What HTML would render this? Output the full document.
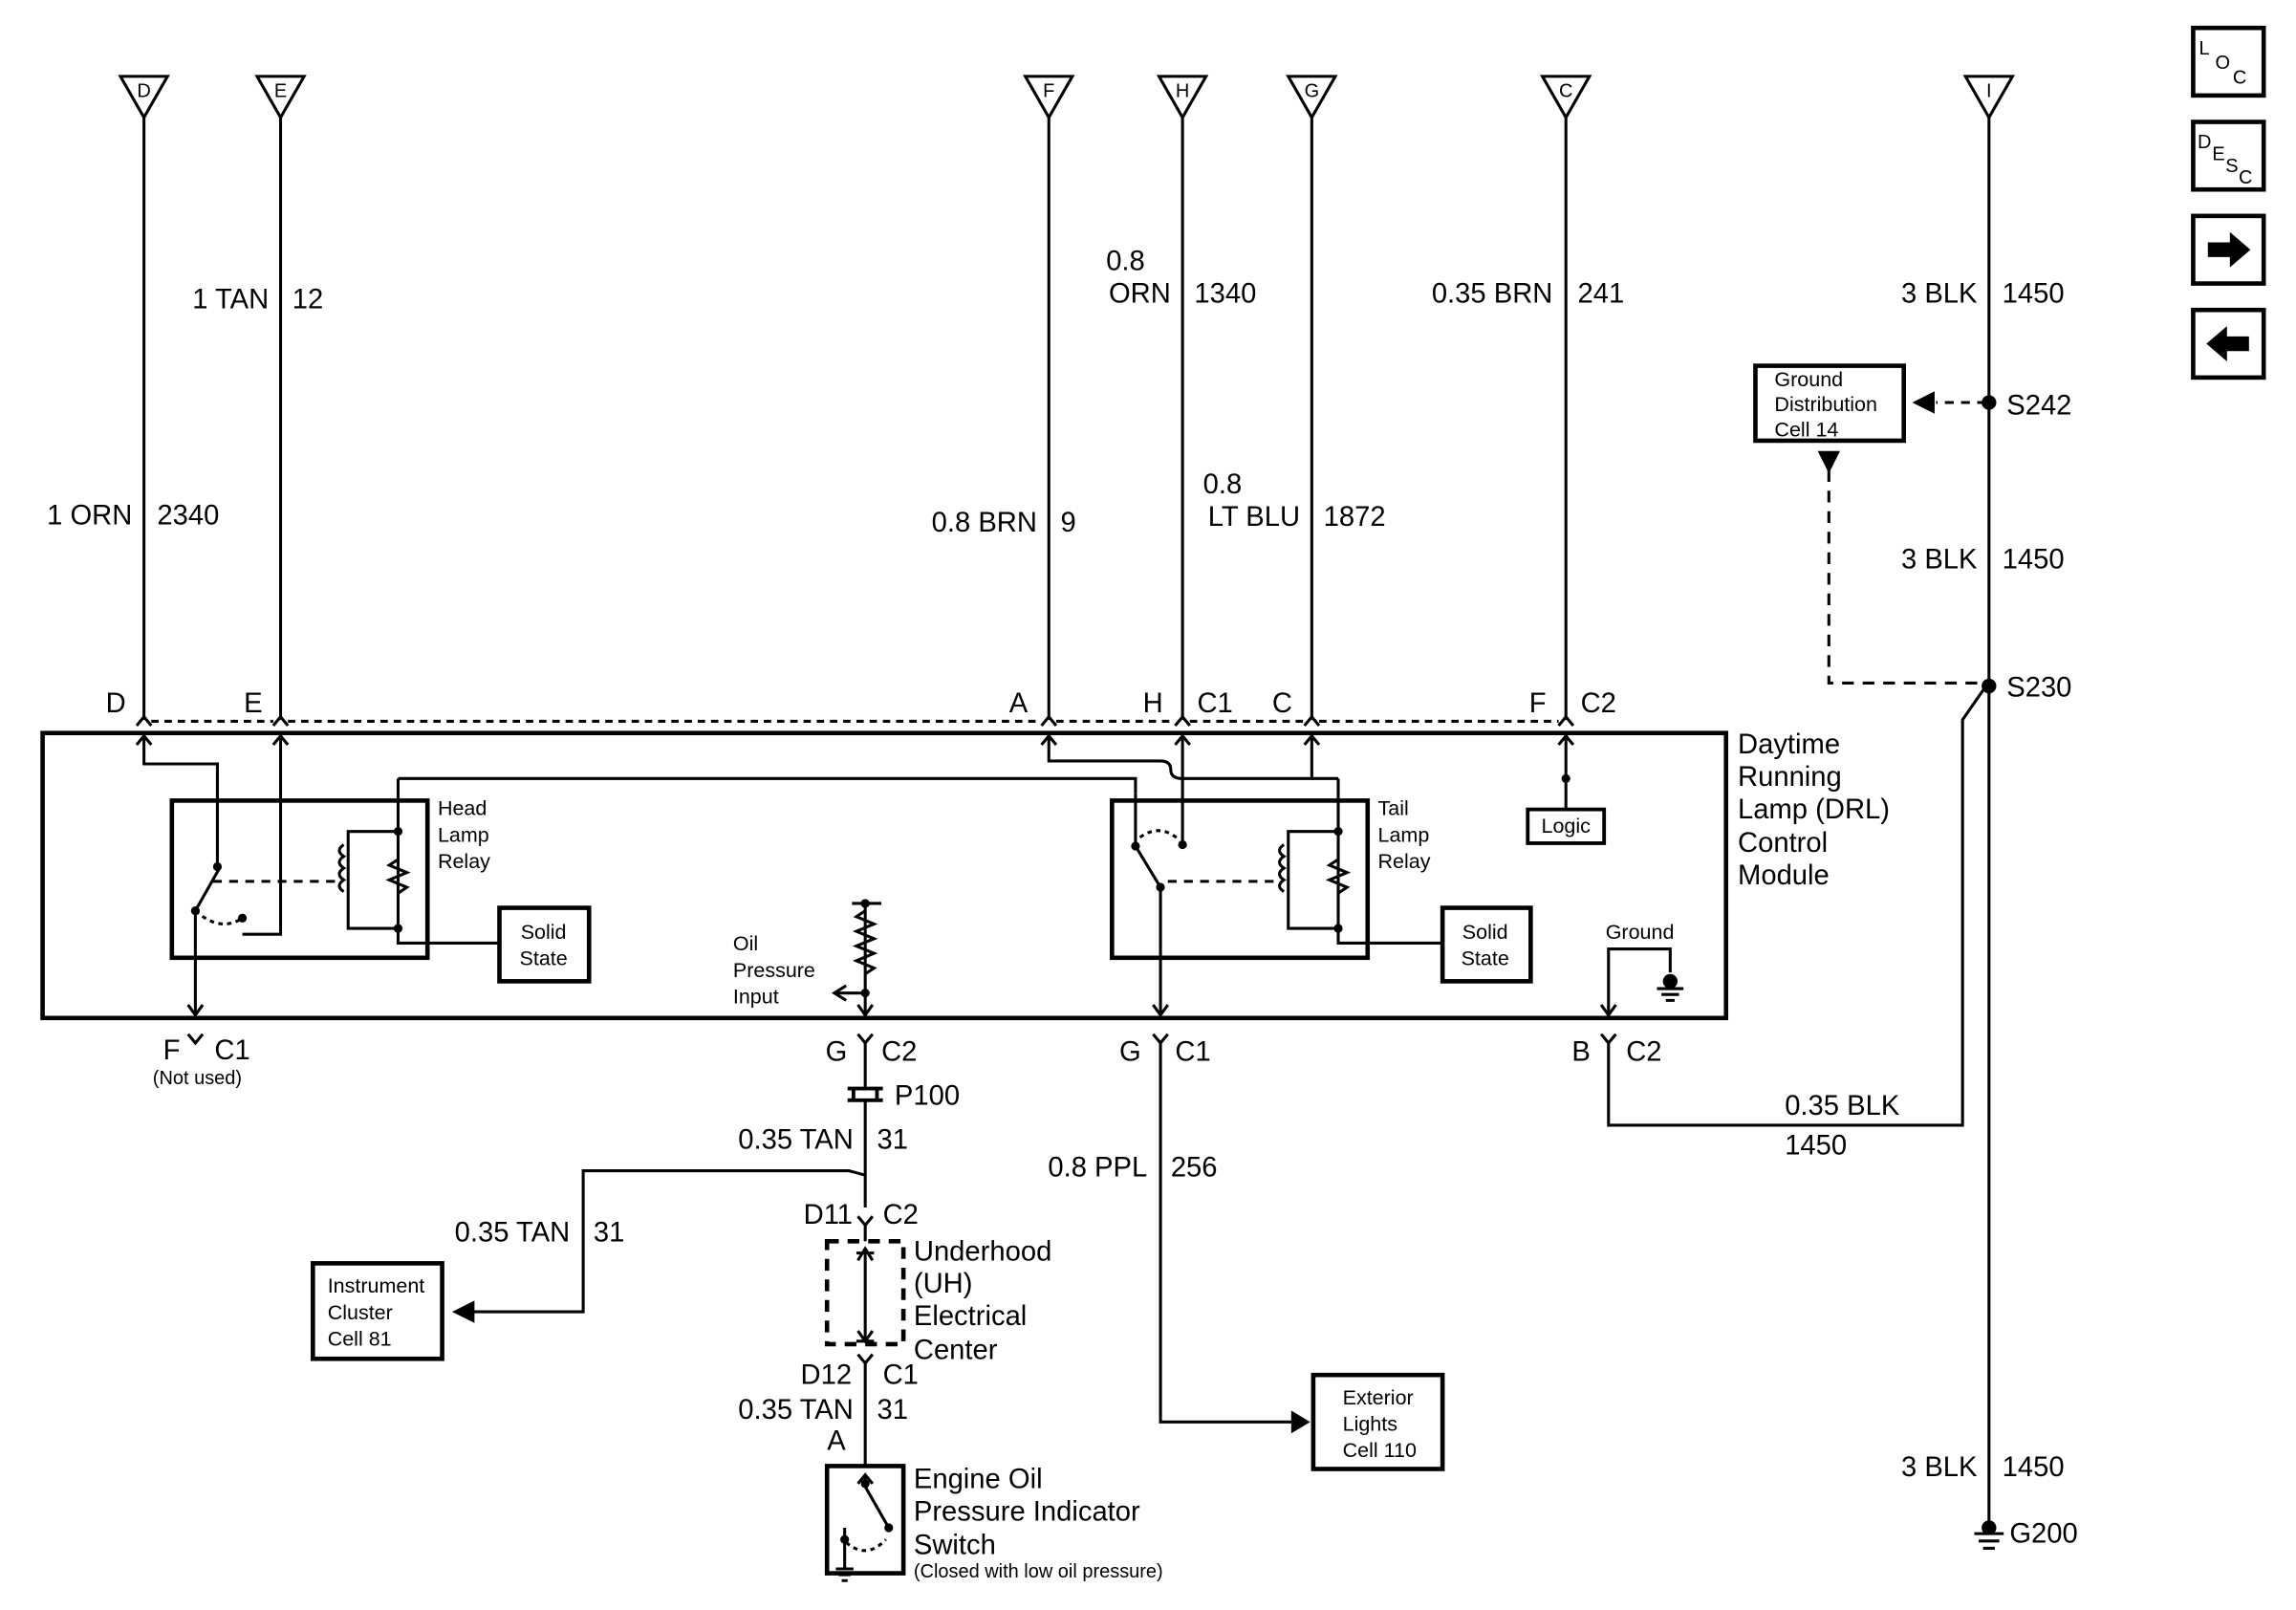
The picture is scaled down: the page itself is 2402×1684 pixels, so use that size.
<!DOCTYPE html>
<html><head><meta charset="utf-8"><style>
html,body{margin:0;padding:0;background:#fff;}
svg{display:block;}
text{font-family:"Liberation Sans",sans-serif;fill:#000;}
.l{font-size:19px;}
.s{font-size:14px;}
.xs{font-size:13px;}
</style></head><body>
<svg width="2402" height="1684" viewBox="0 0 1563 1096" preserveAspectRatio="none" xmlns="http://www.w3.org/2000/svg">
<g stroke="#000" stroke-width="2" fill="none">
<!-- top triangles -->
<g id="tri">
<path d="M82,52 L114,52 L98,80 Z"/>
</g>
<path d="M175,52 L207,52 L191,80 Z"/>
<path d="M698,52 L730,52 L714,80 Z"/>
<path d="M789,52 L821,52 L805,80 Z"/>
<path d="M877,52 L909,52 L893,80 Z"/>
<path d="M1050,52 L1082,52 L1066,80 Z"/>
<path d="M1338,52 L1370,52 L1354,80 Z"/>
<!-- vertical wires -->
<path d="M98,80 V490 M191,80 V490 M714,80 V490 M805,80 V490 M893,80 V490 M1066,80 V490"/>
<path d="M1354,80 V1040"/>
<!-- connector carets -->
<path d="M93,494 L98,488 L103,494 M186,494 L191,488 L196,494 M709,494 L714,488 L719,494 M800,494 L805,488 L810,494 M888,494 L893,488 L898,494 M1061,494 L1066,488 L1071,494"/>
<path d="M103,491 H186 M196,491 H709 M719,491 H800 M810,491 H888 M898,491 H1061" stroke-dasharray="5,4"/>
<!-- module -->
<rect x="29" y="499" width="1146" height="194" stroke-width="3"/>
<!-- head lamp relay -->
<rect x="117" y="545" width="174" height="107" stroke-width="3"/>
<path d="M98,500 V520 H148 V590"/>
<path d="M191,500 V636 H165"/>
<path d="M93,507 L98,501 L103,507 M186,507 L191,501 L196,507"/>
<path d="M133,620 V690 M128,684 L133,691 L138,684"/>
<path d="M133,620 L150,590" />
<path d="M133,620 Q150,635 165,625" stroke-dasharray="3,3"/>
<path d="M145,600 H230" stroke-dasharray="6,5"/>
<path d="M271,530 V632 H237 V566 H271"/>
<path d="M234,575 q-6,4 0,8 q-6,4 0,8 q-6,4 0,8 q-6,4 0,8"/>
<path d="M271,585 l-6,4 l12,5 l-12,5 l12,5 l-6,4"/>
<path d="M271,530 H773 V540"/>
<path d="M271,632 V642 H340"/>
<rect x="340" y="618" width="61" height="50" stroke-width="3"/>
<!-- tail lamp relay -->
<rect x="757" y="545" width="174" height="107" stroke-width="3"/>
<path d="M714,500 V518 H790 Q797,518 797,524 Q797,530 805,530 H893 V500"/>
<path d="M709,507 L714,501 L719,507 M800,507 L805,501 L810,507 M888,507 L893,501 L898,507 M1061,507 L1066,501 L1071,507"/>
<path d="M805,500 V575 M773,540 V576"/>
<path d="M773,576 L790,604 V690 M785,684 L790,691 L795,684"/>
<path d="M776,570 Q790,560 803,572" stroke-dasharray="3,3"/>
<path d="M795,600 H870" stroke-dasharray="6,5"/>
<path d="M911,530 V632 H877 V566 H911 M911,530 H893"/>
<path d="M874,575 q-6,4 0,8 q-6,4 0,8 q-6,4 0,8 q-6,4 0,8"/>
<path d="M911,585 l-6,4 l12,5 l-12,5 l12,5 l-6,4"/>
<path d="M911,632 V642 H982"/>
<rect x="982" y="618" width="60" height="50" stroke-width="3"/>
<path d="M1066,500 V551"/>
<rect x="1040" y="551" width="52" height="23" stroke-width="2.5"/>
<!-- ground inside -->
<path d="M1095,690 V646 H1137 V662"/>
<path d="M1090,684 L1095,691 L1100,684"/>
<path d="M1128,673 H1146 M1131,677 H1143 M1134,681 H1140"/>
<!-- oil pressure input -->
<path d="M589,615 V690 M580,615 H600"/>
<path d="M589,620 l-6,4 l12,5 l-12,5 l12,5 l-12,5 l12,5 l-12,5 l12,5 l-6,4"/>
<path d="M589,676 H570 M576,671 L568,676 L576,681"/>
<path d="M584,684 L589,691 L594,684"/>
<!-- bottom connectors -->
<path d="M128,704 L133,710 L138,704"/>
<path d="M584,704 L589,710 L594,704 M589,710 V740"/>
<path d="M785,704 L790,710 L795,704 M790,710 V968 H880"/>
<path d="M880,962 L890,968 L880,974 Z" fill="#000"/>
<rect x="894" y="936" width="88" height="64" stroke-width="3"/>
<path d="M1090,704 L1095,710 L1100,704 M1095,710 V766 H1336 V490 L1352,467"/>
<!-- P100 -->
<path d="M577,741 H601 M577,749 H601 M581,741 V749 M597,741 V749" stroke-width="2.5"/>
<path d="M589,750 V822 M589,800 L578,797 H397 V893 H320"/>
<path d="M322,887 L310,893 L322,899 Z" fill="#000"/>
<rect x="213" y="860" width="88" height="65" stroke-width="3"/>
<path d="M584,828 L589,834 L594,828 M589,834 V845"/>
<rect x="563" y="845" width="52" height="70" stroke-width="3" stroke-dasharray="8,6"/>
<path d="M583,853 H595 M584,858 L589,850 L594,858 M589,850 V912 M584,906 L589,913 L594,906 M583,913 H595"/>
<path d="M584,922 L589,928 L594,922 M589,928 V998"/>
<rect x="563" y="998" width="52" height="73" stroke-width="3"/>
<path d="M589,1004 V1010 M584,1010 L589,1004 L594,1010 M589,1012 L605,1040 M575,1040 V1068 M569,1068 H581 M571,1072 H579 M573,1076 H577"/>
<path d="M576,1050 Q590,1062 603,1048" stroke-dasharray="3,3"/>
<!-- right side -->
<rect x="1195" y="249" width="101" height="51" stroke-width="3"/>
<path d="M1352,274 H1318" stroke-dasharray="6,5"/>
<path d="M1316,268 L1304,274 L1316,280 Z" fill="#000"/>
<path d="M1245,320 V465 H1352" stroke-dasharray="8,6"/>
<path d="M1239,308 L1245,320 L1251,308 Z" fill="#000"/>
<path d="M1344,1044 H1364 M1347,1049 H1361 M1350,1054 H1358"/>
<!-- icons -->
<rect x="1493" y="19" width="48" height="46" stroke-width="3"/>
<rect x="1493" y="83" width="48" height="46" stroke-width="3"/>
<rect x="1493" y="147" width="48" height="46" stroke-width="3"/>
<rect x="1493" y="211" width="48" height="46" stroke-width="3"/>
</g>
<g fill="#000">
<circle cx="1354" cy="274" r="5"/><circle cx="1354" cy="467" r="5"/><circle cx="1354" cy="1040" r="5"/>
<circle cx="148" cy="590" r="3"/><circle cx="133" cy="620" r="3"/><circle cx="165" cy="625" r="3"/>
<circle cx="271" cy="566" r="3"/><circle cx="271" cy="632" r="3"/>
<circle cx="773" cy="576" r="3"/><circle cx="805" cy="575" r="3"/><circle cx="790" cy="604" r="3"/>
<circle cx="911" cy="566" r="3"/><circle cx="911" cy="632" r="3"/><circle cx="1066" cy="530" r="3"/>
<circle cx="589" cy="615" r="3"/><circle cx="589" cy="676" r="3"/><circle cx="1137" cy="668" r="5"/>
<circle cx="589" cy="1010" r="3"/><circle cx="575" cy="1048" r="3"/><circle cx="605" cy="1040" r="3"/>
<path d="M1503,165 H1518 V158 L1532,170 L1518,182 V175 H1503 Z"/>
<path d="M1531,229 H1516 V222 L1502,234 L1516,246 V239 H1531 Z"/>
<rect x="575" y="1066" width="1" height="1"/>
</g>
<!-- triangle letters -->
<g class="xs" text-anchor="middle">
<text x="98" y="66">D</text><text x="191" y="66">E</text><text x="714" y="66">F</text><text x="805" y="66">H</text><text x="893" y="66">G</text><text x="1066" y="66">C</text><text x="1354" y="66">I</text>
</g>
<g class="l">
<text x="90" y="357" text-anchor="end">1 ORN</text><text x="107" y="357">2340</text>
<text x="183" y="210" text-anchor="end">1 TAN</text><text x="199" y="210">12</text>
<text x="706" y="362" text-anchor="end">0.8 BRN</text><text x="722" y="362">9</text>
<text x="753" y="184">0.8</text><text x="797" y="206" text-anchor="end">ORN</text><text x="813" y="206">1340</text>
<text x="819" y="336">0.8</text><text x="885" y="358" text-anchor="end">LT BLU</text><text x="901" y="358">1872</text>
<text x="1057" y="206" text-anchor="end">0.35 BRN</text><text x="1074" y="206">241</text>
<text x="1346" y="206" text-anchor="end">3 BLK</text><text x="1363" y="206">1450</text>
<text x="1346" y="387" text-anchor="end">3 BLK</text><text x="1363" y="387">1450</text>
<text x="1346" y="1005" text-anchor="end">3 BLK</text><text x="1363" y="1005">1450</text>
<text x="1366" y="282">S242</text><text x="1366" y="474">S230</text><text x="1368" y="1050">G200</text>
<text x="72" y="485">D</text><text x="166" y="485">E</text><text x="687" y="485">A</text><text x="778" y="485">H</text><text x="815" y="485">C1</text><text x="866" y="485">C</text><text x="1041" y="485">F</text><text x="1076" y="485">C2</text>
<text x="1183" y="513">Daytime</text><text x="1183" y="535">Running</text><text x="1183" y="557">Lamp (DRL)</text><text x="1183" y="580">Control</text><text x="1183" y="602">Module</text>
<text x="111" y="721">F</text><text x="146" y="721">C1</text>
<text x="562" y="722">G</text><text x="600" y="722">C2</text>
<text x="762" y="722">G</text><text x="800" y="722">C1</text>
<text x="1070" y="722">B</text><text x="1107" y="722">C2</text>
<text x="609" y="752">P100</text>
<text x="581" y="782" text-anchor="end">0.35 TAN</text><text x="597" y="782">31</text>
<text x="388" y="845" text-anchor="end">0.35 TAN</text><text x="404" y="845">31</text>
<text x="547" y="833">D11</text><text x="601" y="833">C2</text>
<text x="622" y="858">Underhood</text><text x="622" y="880">(UH)</text><text x="622" y="902">Electrical</text><text x="622" y="925">Center</text>
<text x="545" y="942">D12</text><text x="601" y="942">C1</text>
<text x="581" y="966" text-anchor="end">0.35 TAN</text><text x="597" y="966">31</text>
<text x="563" y="987">A</text>
<text x="622" y="1013">Engine Oil</text><text x="622" y="1035">Pressure Indicator</text><text x="622" y="1058">Switch</text>
<text x="781" y="801" text-anchor="end">0.8 PPL</text><text x="797" y="801">256</text>
<text x="1215" y="759">0.35 BLK</text><text x="1215" y="786">1450</text>
</g>
<g class="s">
<text x="298" y="555">Head</text><text x="298" y="573">Lamp</text><text x="298" y="591">Relay</text>
<text x="938" y="555">Tail</text><text x="938" y="573">Lamp</text><text x="938" y="591">Relay</text>
<text x="370" y="639" text-anchor="middle">Solid</text><text x="370" y="657" text-anchor="middle">State</text>
<text x="1011" y="639" text-anchor="middle">Solid</text><text x="1011" y="657" text-anchor="middle">State</text>
<text x="1066" y="567" text-anchor="middle">Logic</text>
<text x="1093" y="639">Ground</text>
<text x="499" y="647">Oil</text><text x="499" y="665">Pressure</text><text x="499" y="683">Input</text>
<text x="223" y="880">Instrument</text><text x="223" y="898">Cluster</text><text x="223" y="916">Cell 81</text>
<text x="914" y="956">Exterior</text><text x="914" y="974">Lights</text><text x="914" y="992">Cell 110</text>
<text x="1208" y="263">Ground</text><text x="1208" y="280">Distribution</text><text x="1208" y="297">Cell 14</text>
</g>
<g class="xs">
<text x="104" y="738">(Not used)</text>
<text x="622" y="1074">(Closed with low oil pressure)</text>
<text x="1497" y="37">L</text><text x="1508" y="47">O</text><text x="1520" y="57">C</text>
<text x="1496" y="101">D</text><text x="1506" y="109">E</text><text x="1515" y="117">S</text><text x="1524" y="125">C</text>
</g>
</svg>
</body></html>
